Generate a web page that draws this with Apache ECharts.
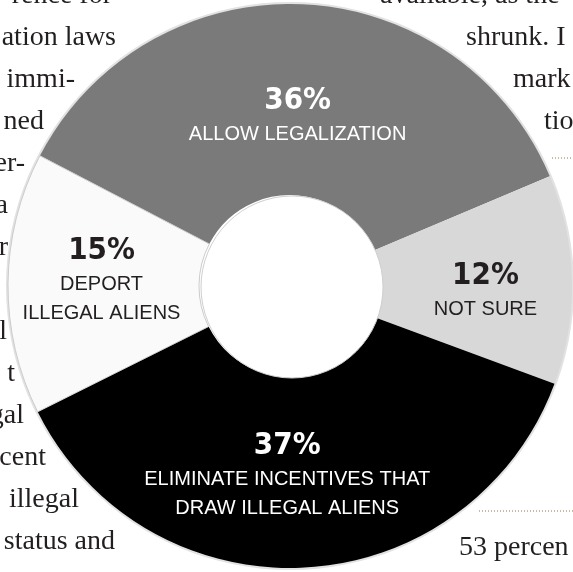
<!DOCTYPE html>
<html>
<head>
<meta charset="utf-8">
<script src="https://cdn.jsdelivr.net/npm/echarts@6/dist/echarts.min.js"></script>
<style>
html,body{margin:0;padding:0;background:#fff;}
#c{width:573px;height:572px;}
</style>
</head>
<body>
<div id="c"></div>
<script>
// ---- data ----
var categories = ['ALLOW LEGALIZATION', 'NOT SURE', 'ELIMINATE INCENTIVES THAT\nDRAW ILLEGAL ALIENS', 'DEPORT\nILLEGAL ALIENS'];
var values = [36, 12, 37, 15];
var sliceColors = ['#7a7a7a', '#d8d8d8', '#000000', '#fafafa'];
var labelColors = ['#ffffff', '#231f20', '#ffffff', '#231f20'];

// background magazine text fragments (left column, right column)
var leftLines = ['rence for', 'ation laws', 'immi-', 'ned', 'er-', 'a', 'r', '', 'l', 't', 'gal', 'cent', ' illegal', 'status and'];
var rightLines = ['available, as the', 'shrunk. I', 'mark', 'tio'];
var rightBottom = '53 percen';

var chart = echarts.init(document.getElementById('c'));

var graphics = [];
var serif = '"Liberation Serif", "DejaVu Serif", serif';
// left column: right-aligned endings
var leftEnds = [112, 116, 75, 44, 25, 8, 8, 0, 7, 15, 24, 46, 79, 115];
leftLines.forEach(function (t, i) {
  if (!t) return;
  graphics.push({
    type: 'text', z: 0,
    x: leftEnds[i], y: -4 + 42 * i,
    style: { text: t, font: '28px ' + serif, fill: '#231f20', textAlign: 'right', textVerticalAlign: 'middle' }
  });
});
var rightStarts = [380, 466, 513, 544];
rightLines.forEach(function (t, i) {
  graphics.push({
    type: 'text', z: 0,
    x: rightStarts[i], y: -4 + 42 * i,
    style: { text: t, font: '28px ' + serif, fill: '#231f20', textAlign: 'left', textVerticalAlign: 'middle' }
  });
});
graphics.push({
  type: 'text', z: 0, x: 459, y: 548,
  style: { text: rightBottom, font: '28px ' + serif, fill: '#231f20', textAlign: 'left', textVerticalAlign: 'middle' }
});
// dotted rules
graphics.push({ type: 'line', z: 0, shape: { x1: 552, y1: 158, x2: 573, y2: 158 },
  style: { stroke: '#8a7a55', lineWidth: 1.2, lineDash: [1, 2] } });
graphics.push({ type: 'line', z: 0, shape: { x1: 479, y1: 511, x2: 573, y2: 511 },
  style: { stroke: '#8a7a55', lineWidth: 1.2, lineDash: [1, 2] } });

var offsets = [[0, 19], [6, 9], [-13, 0], [1, -4]];

var option = {
  backgroundColor: '#ffffff',
  animation: false,
  graphic: graphics,
  series: [
    {
      type: 'pie',
      z: 1,
      silent: true,
      center: [290, 286],
      radius: [281, 284],
      startAngle: 0,
      label: { show: false },
      labelLine: { show: false },
      data: [{ value: 1, itemStyle: { color: '#e2e2e2' } }]
    },
    {
      type: 'pie',
      z: 2,
      center: [290, 286],
      radius: [91, 282],
      startAngle: 152.5,
      clockwise: true,
      avoidLabelOverlap: false,
      labelLine: { show: false },
      data: values.map(function (v, i) {
        return {
          value: v,
          name: categories[i],
          itemStyle: {
            color: sliceColors[i],
            borderColor: i === 3 ? '#cccccc' : sliceColors[i],
            borderWidth: i === 3 ? 1 : 0
          },
          label: {
            show: true,
            position: 'inside',
            offset: offsets[i],
            color: labelColors[i],
            formatter: '{p|' + v + '%}\n{t|' + categories[i].split('\n').join('}\n{t|') + '}',
            rich: {
              p: { fontFamily: '"DejaVu Sans Condensed", "Liberation Sans", Arial, sans-serif', fontWeight: 'bold', fontSize: 31, lineHeight: 38, color: labelColors[i] },
              t: { fontFamily: '"Liberation Sans", Arial, sans-serif', fontSize: 20, lineHeight: 29, color: labelColors[i] }
            }
          }
        };
      })
    },
    {
      type: 'pie',
      z: 3,
      silent: true,
      center: [292, 287],
      radius: [0, 91],
      label: { show: false },
      labelLine: { show: false },
      data: [{ value: 1, itemStyle: { color: '#ffffff', borderColor: '#cfcfcf', borderWidth: 1 } }]
    }
  ]
};
chart.setOption(option);
</script>
</body>
</html>
